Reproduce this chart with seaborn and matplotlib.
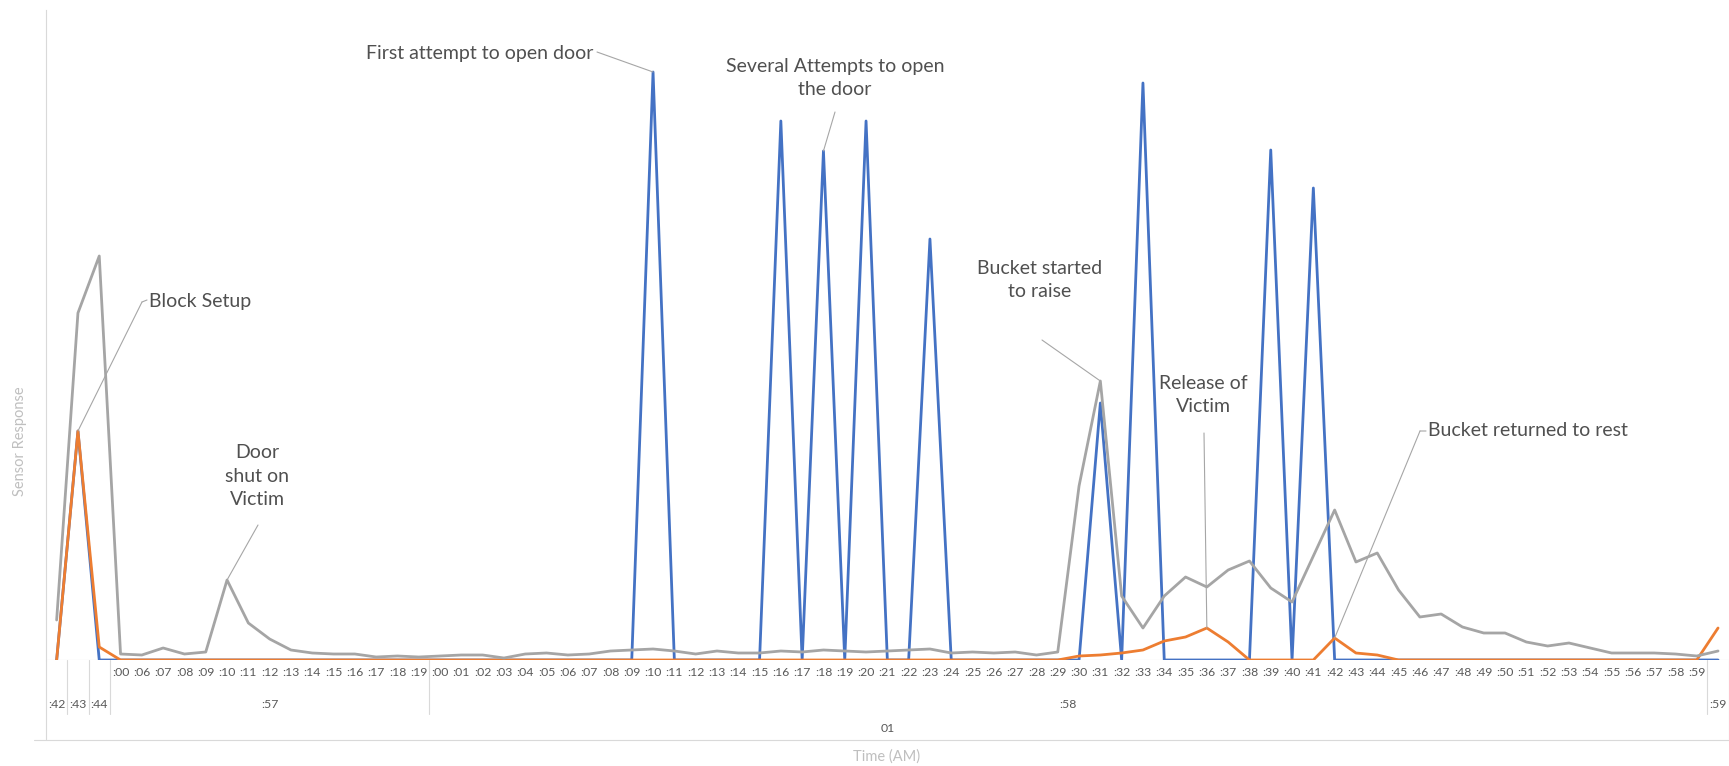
import matplotlib.pyplot as plt
import pandas as pd
import seaborn as sb

# --- categories (multi-level time axis) ---
head_min = [":42", ":43", ":44"]
sec_57 = [":00", ":06", ":07", ":08", ":09", ":10", ":11", ":12", ":13", ":14",
          ":15", ":16", ":17", ":18", ":19"]
sec_58 = [f":{s:02d}" for s in range(60)]
tail_min = [":59"]
hour_label = "01"

# --- sensor response values ---
grey_head = [40, 347, 404]
grey_57 = [6, 5, 12, 6, 8, 80, 37, 21, 10, 7, 6, 6, 3, 4, 3]
grey_58 = [4, 5, 5, 2, 6, 7, 5, 6, 9, 10,
           11, 9, 6, 9, 7, 7, 9, 8, 10, 9,
           8, 9, 10, 11, 7, 8, 7, 8, 5, 8,
           174, 279, 64, 32, 64, 83, 73, 90, 99, 72,
           58, 104, 150, 98, 107, 70, 43, 46, 33, 27,
           27, 18, 14, 17, 12, 7, 7, 7, 6, 4]
grey_tail = [9]

blue_head = [0, 229, 0]
blue_57 = [0, 0, 0, 0, 0, 0, 0, 0, 0, 0, 0, 0, 0, 0, 0]
blue_58 = [0, 0, 0, 0, 0, 0, 0, 0, 0, 0,
           588, 0, 0, 0, 0, 0, 539, 0, 509, 0,
           539, 0, 0, 421, 0, 0, 0, 0, 0, 0,
           0, 257, 0, 577, 0, 0, 0, 0, 0, 510,
           0, 472, 0, 0, 0, 0, 0, 0, 0, 0,
           0, 0, 0, 0, 0, 0, 0, 0, 0, 0]
blue_tail = [0]

orange_head = [0, 229, 13]
orange_57 = [0, 0, 0, 0, 0, 0, 0, 0, 0, 0, 0, 0, 0, 0, 0]
orange_58 = [0, 0, 0, 0, 0, 0, 0, 0, 0, 0,
             0, 0, 0, 0, 0, 0, 0, 0, 0, 0,
             0, 0, 0, 0, 0, 0, 0, 0, 0, 0,
             4, 5, 7, 10, 19, 23, 32, 18, 0, 0,
             0, 0, 22, 7, 5, 0, 0, 0, 0, 0,
             0, 0, 0, 0, 0, 0, 0, 0, 0, 0]
orange_tail = [32]

grey = grey_head + grey_57 + grey_58 + grey_tail
blue = blue_head + blue_57 + blue_58 + blue_tail
orange = orange_head + orange_57 + orange_58 + orange_tail

n = len(grey)
i57 = len(head_min)
i58 = i57 + len(sec_57)
i59 = i58 + len(sec_58)

df = pd.DataFrame({
    "pos": list(range(n)) * 3,
    "value": blue + orange + grey,
    "series": ["blue"] * n + ["orange"] * n + ["grey"] * n,
})

sb.set_style("white")
plt.rcParams["font.family"] = ["Lato", "DejaVu Sans"]

W, H = 1729, 766
fig = plt.figure(figsize=(W / 100, H / 100), dpi=100)
ax = fig.add_axes([46 / W, 106 / H, 79 * 21.3 / W, 650 / H])

sb.lineplot(data=df, x="pos", y="value", hue="series",
            hue_order=["blue", "orange", "grey"],
            palette={"blue": "#4472C4", "orange": "#ED7D31", "grey": "#A5A5A5"},
            estimator=None, legend=False, linewidth=2.0, ax=ax)

ax.set_xlim(-0.5, n - 0.5)
ax.set_ylim(0, 650)
ax.set_yticks([])
ax.set_xlabel("")
ax.set_ylabel("")
for s in ["top", "right", "bottom"]:
    ax.spines[s].set_visible(False)
ax.spines["left"].set_color("#d9d9d9")
ax.spines["left"].set_linewidth(0.8)
ax.axhline(0, color="#d9d9d9", lw=0.8, zorder=0)

# row 1: seconds
row1 = [""] * len(head_min) + sec_57 + sec_58 + [""]
ax.set_xticks(range(n))
ax.set_xticklabels(row1, fontsize=8.8, color="#595959")
ax.tick_params(axis="x", length=0, pad=5)

# multi-level labels and separators
tr = ax.get_xaxis_transform()
ry = lambda ypx: (660 - ypx) / 650
grid = dict(color="#d9d9d9", lw=0.8, clip_on=False, transform=tr)
for x in [0.5, 1.5, i57 - 0.5, i58 - 0.5, i59 - 0.5]:
    ax.plot([x, x], [0, ry(714)], **grid)
for x in [-0.5, n - 0.5]:
    ax.plot([x, x], [0, ry(740)], **grid)
ax.plot([-1.05, n - 0.5], [ry(740), ry(740)], **grid)

lab = dict(transform=tr, ha="center", va="center", fontsize=8.8, color="#595959")
for k, m in enumerate(head_min):
    ax.text(k, ry(704), m, **lab)
ax.text((i57 + i58 - 1) / 2, ry(704), ":57", **lab)
ax.text((i58 + i59 - 1) / 2, ry(704), ":58", **lab)
ax.text(i59, ry(704), tail_min[0], **lab)
ax.text((n - 1) / 2, ry(729), hour_label, **lab)

# axis titles
ax.annotate("Sensor Response", xy=(20, H - 441), xycoords="figure pixels",
            rotation=90, ha="center", va="center", fontsize=10.5, color="#bfbfbf")
ax.annotate("Time (AM)", xy=(887, H - 757), xycoords="figure pixels",
            ha="center", va="center", fontsize=10.5, color="#bfbfbf")

# callouts
txt = dict(xycoords="figure pixels", fontsize=14, color="#505050",
           va="center", linespacing=1.44)
lead = dict(arrowstyle="-", color="#a6a6a6", lw=0.8, shrinkA=0, shrinkB=0)


def leader(pt, px):
    ax.annotate("", xy=pt, xycoords="data", xytext=(px[0], H - px[1]),
                textcoords="figure pixels", arrowprops=lead)


def tick(p0, p1):
    ax.annotate("", xy=(p1[0], H - p1[1]), xycoords="figure pixels",
                xytext=(p0[0], H - p0[1]), textcoords="figure pixels",
                arrowprops=lead)


ax.annotate("Block Setup", xy=(149, H - 301), ha="left", **txt)
leader((1, orange[1]), (142, 302))
tick((142, 302), (147, 300))

ax.annotate("Door\nshut on\nVictim", xy=(257, H - 476), ha="center", **txt)
leader((i57 + 5, grey[i57 + 5]), (258, 525))

ax.annotate("First attempt to open door", xy=(593, H - 53), ha="right", **txt)
leader((i58 + 10, blue[i58 + 10]), (597, 52))

ax.annotate("Several Attempts to open\nthe door", xy=(835, H - 78), ha="center", **txt)
leader((i58 + 18, blue[i58 + 18]), (835, 112))

ax.annotate("Bucket started\nto raise", xy=(1040, H - 280), ha="center", **txt)
leader((i58 + 31, grey[i58 + 31]), (1042, 340))

ax.annotate("Release of\nVictim", xy=(1203, H - 395), ha="center", **txt)
leader((i58 + 36, orange[i58 + 36]), (1204, 433))

ax.annotate("Bucket returned to rest", xy=(1428, H - 431), ha="left", **txt)
leader((i58 + 42, orange[i58 + 42]), (1420, 431))
tick((1420, 431), (1426, 431))

fig.savefig("out.png", dpi=100)
